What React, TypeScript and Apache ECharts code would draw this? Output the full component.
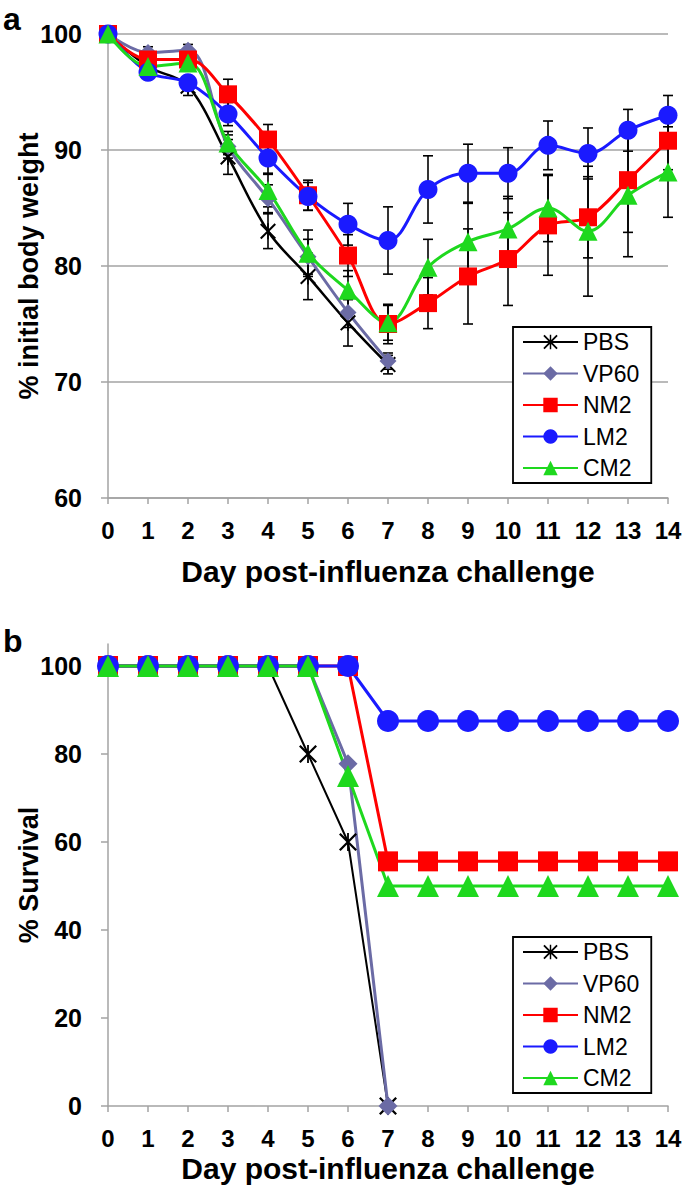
import React, { useEffect, useRef } from 'react';
import * as echarts from 'echarts';

const days = ['0', '1', '2', '3', '4', '5', '6', '7', '8', '9', '10', '11', '12', '13', '14'];
const groupNames = ['PBS', 'VP60', 'NM2', 'LM2', 'CM2'];

// Panel a: % initial body weight (mean) per day
const weightPBS = [100, 97.2, 95.5, 89.4, 83.0, 79.1, 75.1, 71.5];
const weightVP60 = [100, 98.4, 98.6, 90.3, 85.8, 80.8, 76.0, 71.8];
const weightNM2 = [100, 97.8, 97.8, 94.8, 90.9, 86.1, 80.9, 75.0, 76.8, 79.1, 80.6, 83.5, 84.2, 87.4, 90.8];
const weightLM2 = [100, 96.7, 95.8, 93.1, 89.3, 86.0, 83.6, 82.2, 86.6, 88.0, 88.0, 90.4, 89.7, 91.7, 93.0];
const weightCM2 = [100, 97.2, 97.5, 90.6, 86.5, 81.1, 77.9, 75.1, 79.9, 82.1, 83.2, 85.0, 83.0, 86.1, 88.1];

// Panel a: error bar half-widths
const errPBS = [0, 0.8, 0.8, 1.5, 1.5, 2.0, 2.0, 0.8];
const errVP60 = [0, 0.5, 0.5, 1.0, 1.2, 1.5, 1.3, 0.7];
const errNM2 = [0, 0.6, 0.7, 1.3, 1.3, 1.3, 1.8, 1.7, 2.2, 4.1, 4.0, 4.3, 3.5, 4.5, 2.5];
const errLM2 = [0, 0.6, 0.6, 1.0, 1.3, 1.2, 1.8, 2.9, 2.9, 2.5, 2.2, 2.1, 2.2, 1.8, 1.7];
const errCM2 = [0, 0.5, 0.5, 1.0, 1.4, 2.0, 1.7, 1.5, 2.4, 3.3, 2.8, 2.9, 5.6, 5.3, 3.9];

// Panel b: % survival
const survPBS = [100, 100, 100, 100, 100, 80, 60, 0];
const survVP60 = [100, 100, 100, 100, 100, 100, 77.8, 0];
const survNM2 = [100, 100, 100, 100, 100, 100, 100, 55.6, 55.6, 55.6, 55.6, 55.6, 55.6, 55.6, 55.6];
const survLM2 = [100, 100, 100, 100, 100, 100, 100, 87.5, 87.5, 87.5, 87.5, 87.5, 87.5, 87.5, 87.5];
const survCM2 = [100, 100, 100, 100, 100, 100, 75, 50, 50, 50, 50, 50, 50, 50, 50];

const yTicksB = [0, 20, 40, 60, 80, 100];

const FONT = '"Liberation Sans", Arial, sans-serif';
const AXIS_GRAY = '#a3a3a3';

const colors: Record<string, string> = {
  PBS: '#000000',
  VP60: '#6b6ba5',
  NM2: '#ff0000',
  LM2: '#1a1aff',
  CM2: '#1ed81e',
};

const ASTERISK =
  'path://M0,1.8L1.8,0L20,18.2L18.2,20ZM18.2,0L20,1.8L1.8,20L0,18.2ZM9,0L11,0L11,20L9,20Z';

const symbols: Record<string, string> = {
  PBS: ASTERISK,
  VP60: 'diamond',
  NM2: 'rect',
  LM2: 'circle',
  CM2: 'triangle',
};

const sizesA: Record<string, number> = { PBS: 16, VP60: 17, NM2: 18, LM2: 19, CM2: 19 };
const sizesB: Record<string, number> = { PBS: 18, VP60: 19, NM2: 20, LM2: 22, CM2: 22 };

const weights: Record<string, number[]> = {
  PBS: weightPBS, VP60: weightVP60, NM2: weightNM2, LM2: weightLM2, CM2: weightCM2,
};
const errs: Record<string, number[]> = {
  PBS: errPBS, VP60: errVP60, NM2: errNM2, LM2: errLM2, CM2: errCM2,
};
const survs: Record<string, number[]> = {
  PBS: survPBS, VP60: survVP60, NM2: survNM2, LM2: survLM2, CM2: survCM2,
};

function buildOption() {
  const errData: number[][] = [];
  groupNames.forEach((g) => {
    weights[g].forEach((v, i) => {
      const e = errs[g][i];
      if (e > 0) errData.push([i, v - e, v + e]);
    });
  });

  const lineSeries = (idx: number, name: string, data: number[], size: number, smooth: boolean | number, lw: number) => ({
    type: 'line',
    name,
    data,
    xAxisIndex: idx,
    yAxisIndex: idx,
    symbol: symbols[name],
    symbolSize: size,
    showAllSymbol: true,
    smooth,
    z: 3,
    silent: true,
    lineStyle: { color: colors[name], width: lw },
    itemStyle: { color: colors[name], opacity: 1 },
    emphasis: { disabled: true },
  });

  const series: any[] = [
    {
      type: 'custom',
      xAxisIndex: 0,
      yAxisIndex: 0,
      z: 2,
      silent: true,
      data: errData,
      encode: { x: 0, y: [1, 2] },
      renderItem: (params: any, api: any) => {
        const x = api.value(0);
        const lo = api.value(1);
        const hi = api.value(2);
        const p1 = api.coord([x, lo]);
        const p2 = api.coord([x, hi]);
        const cap = 5;
        const style = { stroke: '#000', lineWidth: 1.6 };
        return {
          type: 'group',
          children: [
            { type: 'line', shape: { x1: p1[0], y1: p1[1], x2: p2[0], y2: p2[1] }, style },
            { type: 'line', shape: { x1: p1[0] - cap, y1: p1[1], x2: p1[0] + cap, y2: p1[1] }, style },
            { type: 'line', shape: { x1: p2[0] - cap, y1: p2[1], x2: p2[0] + cap, y2: p2[1] }, style },
          ],
        };
      },
    },
  ];

  groupNames.forEach((g) => {
    series.push(lineSeries(0, g, weights[g], sizesA[g], 0.35, g === 'PBS' ? 2.5 : 3));
  });
  groupNames.forEach((g) => {
    series.push(lineSeries(1, g, survs[g], sizesB[g], false, g === 'PBS' ? 2 : 3));
  });

  const xAxisBase = (gridIndex: number, nameGap: number) => ({
    type: 'category',
    gridIndex,
    data: days,
    boundaryGap: false,
    name: 'Day post-influenza challenge',
    nameLocation: 'middle',
    nameGap,
    nameMoveOverlap: false,
    nameTextStyle: { fontFamily: FONT, fontSize: 30, fontWeight: 'bold', color: '#000' },
    axisLine: { lineStyle: { color: AXIS_GRAY, width: 1.5 } },
    axisTick: { show: true, alignWithLabel: true, length: 6, lineStyle: { color: AXIS_GRAY, width: 1.5 } },
    axisLabel: { fontFamily: FONT, fontSize: 24, fontWeight: 'bold', color: '#000', margin: 20, interval: 0 },
    splitLine: { show: false },
  });

  const legendBase = (top: number) => ({
    orient: 'vertical',
    left: 513,
    top,
    data: groupNames,
    selectedMode: false,
    backgroundColor: '#fff',
    borderColor: '#000',
    borderWidth: 1.8,
    padding: [3, 12, 3, 9],
    itemWidth: 55,
    itemHeight: 18,
    itemGap: 7.5,
    textStyle: { fontFamily: FONT, fontSize: 23, color: '#000', lineHeight: 24 },
  });

  const yAxisBase = (gridIndex: number, name: string) => ({
    type: 'value',
    gridIndex,
    name,
    nameLocation: 'middle',
    nameGap: 66,
    nameRotate: 90,
    nameMoveOverlap: false,
    nameTextStyle: { fontFamily: FONT, fontSize: 27, fontWeight: 'bold', color: '#000' },
    axisLine: { show: true, lineStyle: { color: AXIS_GRAY, width: 1.5 } },
  });

  return {
    animation: false,
    backgroundColor: '#fff',
    textStyle: { fontFamily: FONT },
    grid: [
      { left: 108, right: 17, top: 34, height: 464, containLabel: false, outerBoundsMode: 'none' },
      { left: 108, right: 17, top: 644, height: 462, containLabel: false, outerBoundsMode: 'none' },
    ],
    xAxis: [xAxisBase(0, 58), xAxisBase(1, 47)],
    yAxis: [
      {
        ...yAxisBase(0, '% initial body weight'),
        min: 60,
        max: 100,
        interval: 10,
        axisTick: { show: true, length: 7, lineStyle: { color: AXIS_GRAY, width: 1.5 } },
        axisLabel: { fontFamily: FONT, fontSize: 25, fontWeight: 'bold', color: '#000', margin: 26 },
        splitLine: { show: true, lineStyle: { color: AXIS_GRAY, width: 1.5 } },
      },
      {
        ...yAxisBase(1, '% Survival'),
        min: 0,
        max: 105,
        axisTick: { show: true, length: 7, customValues: yTicksB, lineStyle: { color: AXIS_GRAY, width: 1.5 } },
        axisLabel: {
          fontFamily: FONT, fontSize: 25, fontWeight: 'bold', color: '#000', margin: 26,
          customValues: yTicksB,
        },
        splitLine: { show: false },
      },
    ],
    legend: [legendBase(327), legendBase(937)],
    graphic: [
      {
        type: 'text', left: 3, top: 3, silent: true,
        style: { text: 'a', fontFamily: FONT, fontSize: 32, fontWeight: 'bold', fill: '#000' },
      },
      {
        type: 'text', left: 3, top: 625, silent: true,
        style: { text: 'b', fontFamily: FONT, fontSize: 32, fontWeight: 'bold', fill: '#000' },
      },
    ],
    series,
  };
}

export default function App() {
  const ref = useRef<HTMLDivElement>(null);
  useEffect(() => {
    if (!ref.current) return;
    const chart = echarts.init(ref.current, null, { renderer: 'svg' });
    chart.setOption(buildOption() as any);
    return () => chart.dispose();
  }, []);
  return (
    <div
      ref={ref}
      style={{ position: 'fixed', left: 0, top: 0, width: 685, height: 1199, background: '#fff' }}
    />
  );
}
